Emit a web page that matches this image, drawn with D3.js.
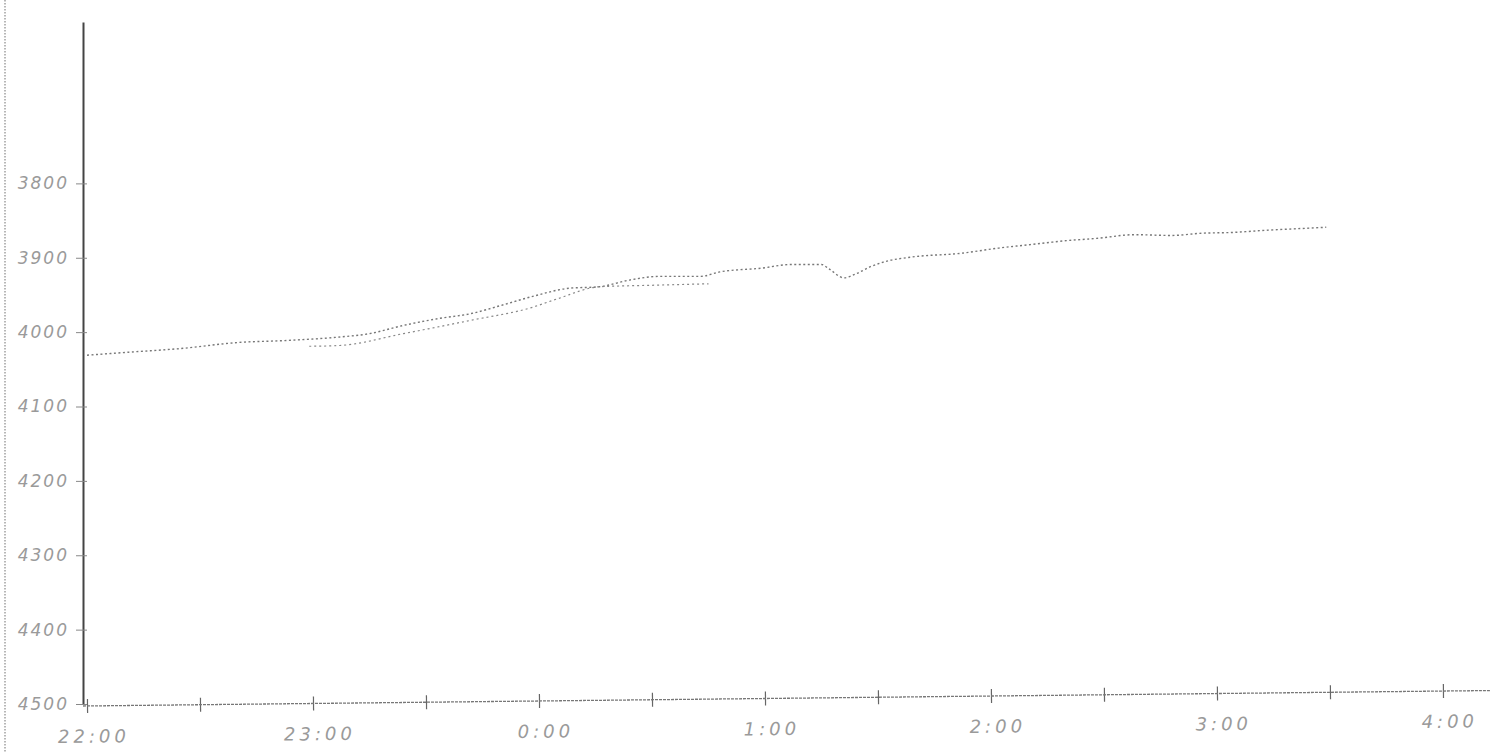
<!DOCTYPE html>
<html>
<head>
<meta charset="utf-8">
<script src="https://cdn.jsdelivr.net/npm/d3@7"></script>
<style>
  html, body { margin: 0; padding: 0; background: #fff; }
  svg { display: block; }
</style>
</head>
<body>
<svg id="chart" width="1491" height="753"></svg>
<script>
// ---- data (minutes after 22:00, value) ----
const mainMinutes = [0, 11, 25, 40, 54, 66, 75, 84, 93, 102, 110, 119, 128, 136, 144, 152, 163, 168, 179, 187, 195, 197, 201, 204, 208, 212, 219, 232, 242, 251, 260, 268, 278, 288, 296, 304, 313, 321, 329];
const mainValues  = [4031, 4027, 4022, 4014, 4011, 4007, 4002, 3991, 3982, 3975, 3964, 3951, 3941, 3939, 3930, 3925, 3925, 3919, 3914, 3909, 3909, 3915, 3927, 3922, 3912, 3905, 3899, 3894, 3887, 3882, 3877, 3874, 3869, 3870, 3867, 3866, 3863, 3861, 3859];
const lowerMinutes = [59, 67, 84, 102, 118, 125, 136, 150, 165];
const lowerValues  = [4019, 4018, 4002, 3984, 3967, 3955, 3939, 3937, 3935];
const yTicks = [3800, 3900, 4000, 4100, 4200, 4300, 4400, 4500];
const xTicks = [0, 30, 60, 90, 120, 150, 180, 210, 240, 270, 300, 330, 360];
const xTickLabels = { 0: "22:00", 60: "23:00", 120: "0:00", 180: "1:00", 240: "2:00", 300: "3:00", 360: "4:00" };

const svg = d3.select("#chart");
const W = 1491, H = 753;

const x = d3.scaleLinear().domain([0, 360]).range([87, 1443]);
const y = d3.scaleLinear().domain([3583, 4500]).range([22, 704]);
const axisX0 = 83;

// scanned page left edge
svg.append("line")
  .attr("x1", 5).attr("x2", 5).attr("y1", 0).attr("y2", H)
  .attr("stroke", "#888").attr("stroke-width", 1.2).attr("stroke-dasharray", "1.5,1.5");

// y axis
const yAxis = d3.axisLeft(y).tickValues(yTicks).tickSize(7).tickSizeOuter(0).tickFormat(d => d);
const gy = svg.append("g").attr("transform", `translate(${axisX0},0)`).call(yAxis);
gy.select(".domain").attr("stroke", "#444").attr("stroke-width", 2);
gy.selectAll(".tick line").attr("x1", 4).attr("stroke", "#888").attr("stroke-width", 1);
gy.selectAll(".tick text")
  .attr("x", -14)
  .attr("fill", "#9a9a9a")
  .attr("font-family", "DejaVu Sans")
  .attr("font-style", "italic")
  .attr("font-size", 17)
  .attr("letter-spacing", 2);

// x axis (slightly slanted, as drawn by hand)
const xAxis = d3.axisBottom(x).tickValues(xTicks).tickSize(7).tickSizeOuter(0)
  .tickFormat(d => xTickLabels[d] || "");
const gx = svg.append("g")
  .attr("transform", `rotate(-0.63, ${axisX0}, ${y(4500)}) translate(0,${y(4500) + 2})`)
  .call(xAxis);
gx.select(".domain").remove();
gx.append("line")
  .attr("x1", axisX0).attr("x2", W).attr("y1", 0).attr("y2", 0)
  .attr("stroke", "#777").attr("stroke-width", 1.3).attr("stroke-dasharray", "3,1");
gx.selectAll(".tick line").attr("y1", -7).attr("stroke", "#666").attr("stroke-width", 1.2);
gx.selectAll(".tick text")
  .attr("y", 24)
  .attr("dx", 6)
  .attr("fill", "#9a9a9a")
  .attr("font-family", "DejaVu Sans")
  .attr("font-style", "italic")
  .attr("font-size", 18)
  .attr("letter-spacing", 4);

// data traces
const line = d3.line().x(d => x(d[0])).y(d => y(d[1])).curve(d3.curveMonotoneX);
const mainData = mainMinutes.map((m, i) => [m, mainValues[i]]);
const lowerData = lowerMinutes.map((m, i) => [m, lowerValues[i]]);

svg.append("path").datum(mainData).attr("d", line)
  .attr("fill", "none").attr("stroke", "#777").attr("stroke-width", 1.4)
  .attr("stroke-dasharray", "2,2.5");
svg.append("path").datum(lowerData).attr("d", line)
  .attr("fill", "none").attr("stroke", "#888").attr("stroke-width", 1.2)
  .attr("stroke-dasharray", "2,3");
</script>
</body>
</html>
